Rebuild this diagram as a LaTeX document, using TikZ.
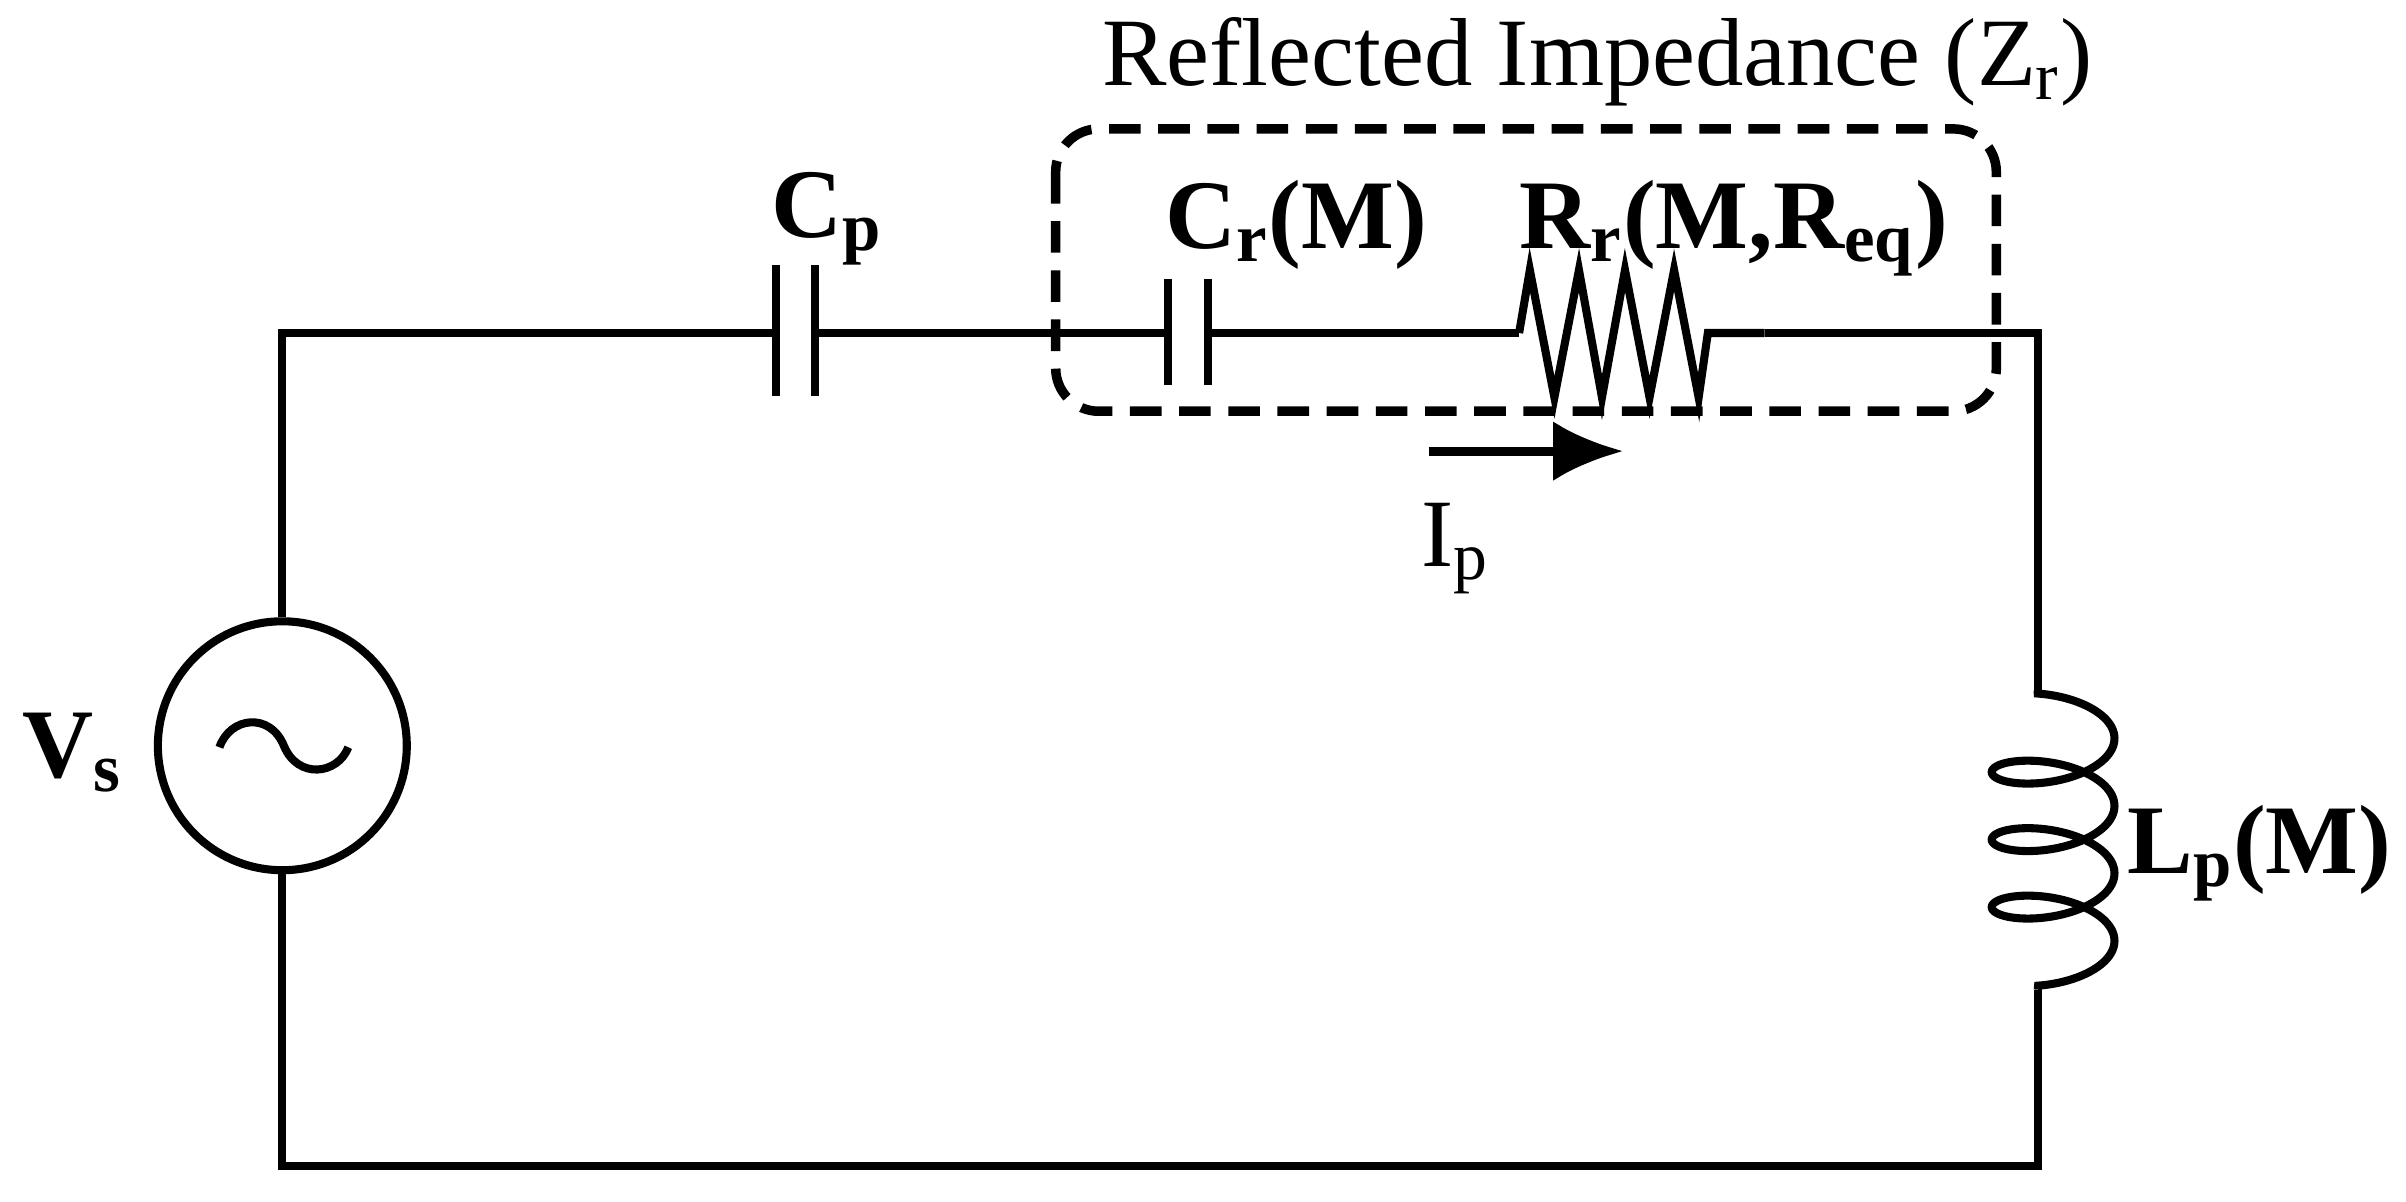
\documentclass[tikz,border=0pt]{standalone}
\usepackage{fontspec}
\usetikzlibrary{arrows.meta}
\setmainfont{Liberation Serif}
\begin{document}
\begin{tikzpicture}[x=0.015344cm,y=-0.015344cm,
  wire/.style={line width=2.3pt},
  lbl/.style={font=\fontsize{28pt}{32pt}\selectfont\bfseries,inner sep=0pt,anchor=base west},
  nlbl/.style={font=\fontsize{27.5pt}{32pt}\selectfont,inner sep=0pt,anchor=base west}]
\useasboundingbox (0,0) rectangle (1568,783);
% corners
\coordinate (tl) at (184,217); \coordinate (tr) at (1328,217);
\coordinate (bl) at (184,760); \coordinate (br) at (1328,760);
\coordinate (lt) at (1328,450); \coordinate (lb) at (1328,645);
% source
\node[draw,circle,line width=2.3pt,minimum size=2.49cm,inner sep=0] (vs) at (184,486) {};
\draw[wire] (vs.north) -- (tl) -- (506,217);
\draw[wire] (vs.south) -- (bl) -- (br) -- (lb);
\draw[wire] (143,487) .. controls (150,467) and (176,464) .. (185,486)
  .. controls (194,508) and (220,505) .. (227,487);
% Cp
\draw[wire] (506,173) -- (506,258); \draw[wire] (531,173) -- (531,258);
\draw[wire] (531,217) -- (761,217);
% Cr
\draw[wire] (761,182) -- (761,251); \draw[wire] (787,182) -- (787,251);
\draw[wire] (787,217) -- (990,217);
% resistor
\draw[wire,line join=miter] (990,217) -- (997,176) -- (1013,259) -- (1029,176) -- (1044,259) -- (1059,176) -- (1075,259) -- (1091,176) -- (1107,259) -- (1113,217) -- (1150,217);
\draw[wire] (1150,217) -- (tr) -- (lt);
% inductor
\draw[wire] (lt) -- plot[domain=-1.823:20.673,samples=400,smooth,variable=\t]
  ({1338+40*cos(\t r)},{481.2+7*\t+17*sin(\t r)}) -- (lb);
% dashed box
\draw[line width=2.7pt,dash pattern=on 9pt off 5pt,rounded corners=0.43cm] (688,84) rectangle (1301,268);
% arrow
\draw[line width=2.6pt,-{Latex[length=20pt,width=17pt]}] (931,294) -- (1058,294);
% labels
\node[nlbl] (zr) at (718,56) {Reflected Impedance (Z\textsubscript{r})};
\node[lbl] (cp) at (502,155) {C\textsubscript{p}};
\node[lbl] (cr) at (759,162) {C\textsubscript{r}(M)};
\node[lbl] (rr) at (990,162) {R\textsubscript{r}(M,R\textsubscript{eq})};
\node[nlbl] (ip) at (926,369) {I\textsubscript{p}};
\node[lbl] (vsl) at (14,507) {V\textsubscript{s}};
\node[lbl] (lp) at (1386,569) {L\textsubscript{p}(M)};
\end{tikzpicture}
\end{document}
